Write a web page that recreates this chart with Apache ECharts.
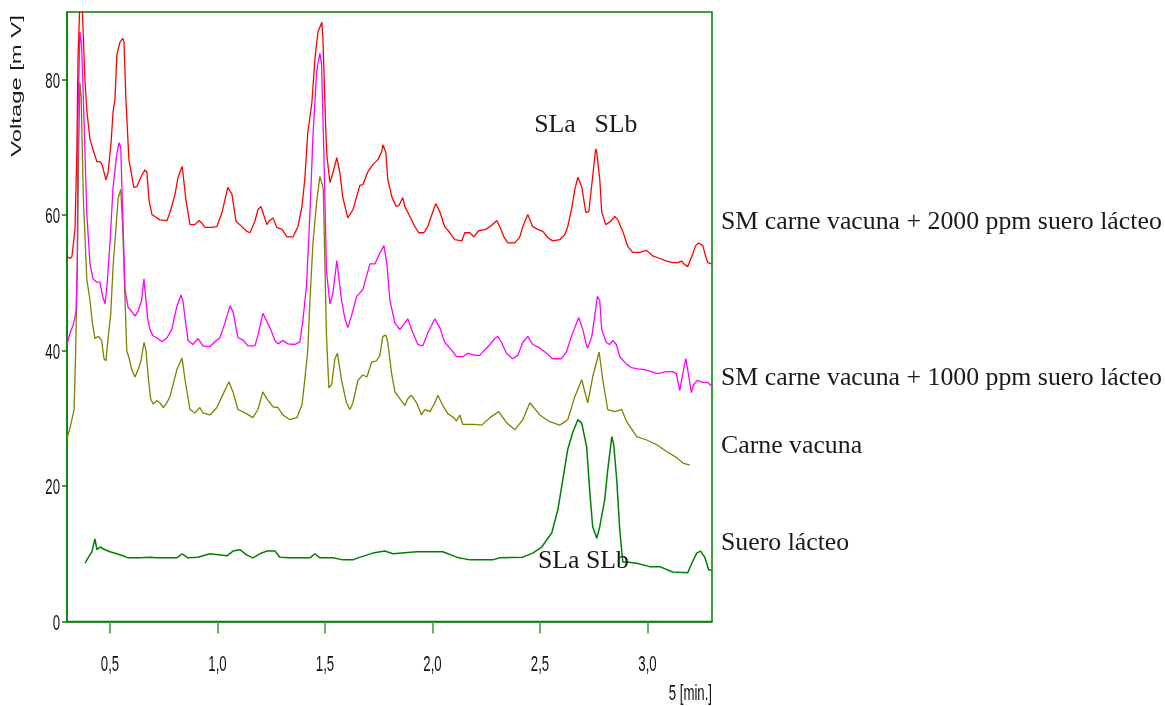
<!DOCTYPE html>
<html><head><meta charset="utf-8">
<script src="https://cdn.jsdelivr.net/npm/echarts@6/dist/echarts.min.js"></script>
<style>html,body{margin:0;padding:0;background:#fff}#c{width:1165px;height:706px}</style>
</head><body><div id="c"></div>
<script>
// ---- data (time in min, voltage in mV) ----
const xTicks = [0.5, 1.0, 1.5, 2.0, 2.5, 3.0];
const yTicks = [0, 20, 40, 60, 80];
const seriesNames = [
  'SM carne vacuna + 2000 ppm suero lácteo',
  'SM carne vacuna + 1000 ppm suero lácteo',
  'Carne vacuna',
  'Suero lácteo'
];
const peakLabelsTop = ['SLa', 'SLb'];
const peakLabelBottom = 'SLa SLb';
const yAxisTitle = 'Voltage [m V]';
const xAxisTitle = '5 [min.]';

const sm2000 = [[0.300,53.9],[0.314,53.6],[0.323,53.9],[0.337,57.9],[0.346,69.7],[0.351,83.0],[0.360,91.5],[0.370,91.5],[0.384,79.6],[0.393,75.2],[0.407,71.2],[0.421,69.7],[0.439,67.9],[0.453,67.9],[0.463,67.5],[0.481,65.2],[0.491,66.3],[0.505,70.7],[0.514,75.2],[0.523,77.1],[0.532,83.7],[0.546,85.5],[0.560,86.1],[0.565,85.6],[0.574,77.1],[0.588,68.2],[0.602,65.7],[0.611,64.1],[0.625,64.2],[0.649,66.0],[0.663,66.7],[0.672,66.3],[0.681,62.3],[0.695,60.1],[0.709,59.8],[0.732,59.3],[0.765,59.2],[0.779,60.4],[0.802,63.0],[0.816,65.5],[0.835,67.2],[0.839,66.3],[0.853,62.3],[0.872,58.6],[0.895,58.6],[0.914,59.2],[0.928,58.8],[0.942,58.2],[0.974,58.2],[0.997,58.3],[1.021,60.4],[1.048,64.1],[1.067,63.1],[1.086,59.1],[1.104,58.6],[1.137,57.6],[1.151,57.4],[1.174,59.1],[1.188,60.8],[1.202,61.3],[1.211,60.4],[1.230,58.6],[1.239,59.1],[1.258,59.6],[1.276,58.2],[1.300,57.9],[1.323,56.8],[1.351,56.8],[1.374,58.3],[1.393,61.3],[1.406,65.3],[1.420,72.2],[1.439,76.6],[1.453,83.0],[1.467,87.0],[1.485,88.5],[1.490,86.4],[1.504,72.2],[1.509,68.7],[1.523,64.8],[1.537,66.3],[1.555,68.5],[1.569,66.3],[1.583,62.6],[1.606,59.6],[1.630,60.8],[1.662,64.4],[1.676,64.5],[1.699,66.4],[1.723,67.5],[1.746,68.2],[1.764,69.4],[1.769,70.4],[1.783,69.3],[1.792,65.3],[1.811,62.7],[1.830,61.3],[1.843,61.4],[1.862,62.6],[1.871,61.3],[1.895,59.8],[1.918,58.3],[1.936,57.4],[1.960,57.4],[1.978,58.3],[1.997,60.1],[2.015,61.7],[2.034,60.5],[2.057,58.3],[2.081,57.4],[2.104,56.4],[2.136,56.2],[2.150,57.4],[2.174,57.4],[2.192,56.8],[2.215,57.7],[2.248,57.9],[2.276,58.5],[2.299,59.2],[2.313,58.3],[2.332,56.8],[2.350,55.9],[2.383,55.9],[2.406,56.8],[2.420,58.3],[2.443,60.1],[2.466,58.3],[2.490,57.9],[2.513,57.6],[2.536,56.7],[2.559,56.2],[2.592,56.4],[2.615,57.1],[2.629,58.3],[2.648,61.1],[2.662,63.8],[2.676,65.6],[2.694,64.2],[2.713,60.4],[2.727,60.5],[2.745,65.7],[2.759,69.8],[2.764,69.3],[2.778,65.3],[2.787,60.5],[2.806,58.6],[2.829,59.1],[2.848,59.8],[2.862,59.3],[2.885,57.6],[2.908,55.4],[2.931,54.5],[2.964,54.5],[2.996,54.8],[3.024,54.0],[3.057,53.6],[3.089,53.2],[3.117,53.0],[3.140,53.0],[3.159,53.2],[3.173,52.7],[3.187,52.4],[3.206,53.9],[3.224,55.5],[3.238,55.9],[3.257,55.5],[3.271,53.9],[3.280,53.0],[3.299,52.8]];

const sm1000 = [[0.300,40.9],[0.314,42.6],[0.328,43.7],[0.342,45.7],[0.348,52.8],[0.351,74.3],[0.360,87.1],[0.368,85.1],[0.379,74.3],[0.392,60.3],[0.407,52.8],[0.421,50.6],[0.438,50.1],[0.453,50.1],[0.466,48.0],[0.477,46.9],[0.486,49.6],[0.500,55.9],[0.514,64.0],[0.531,68.9],[0.542,70.7],[0.550,70.0],[0.559,60.3],[0.570,49.0],[0.584,46.4],[0.601,45.8],[0.616,45.1],[0.630,45.8],[0.647,47.4],[0.658,50.6],[0.667,50.6],[0.675,44.8],[0.686,43.1],[0.700,42.2],[0.718,41.9],[0.742,41.3],[0.765,41.9],[0.787,43.1],[0.810,46.4],[0.830,48.2],[0.839,47.4],[0.852,44.1],[0.863,41.5],[0.886,40.9],[0.909,41.8],[0.932,40.7],[0.965,40.6],[0.988,41.3],[1.011,41.9],[1.035,44.1],[1.058,46.6],[1.072,45.8],[1.095,41.9],[1.118,41.6],[1.141,40.7],[1.174,40.7],[1.188,42.2],[1.211,45.5],[1.228,44.4],[1.248,43.1],[1.267,41.5],[1.281,41.0],[1.304,41.5],[1.327,41.0],[1.360,40.9],[1.383,41.3],[1.397,44.4],[1.414,49.6],[1.430,60.3],[1.444,71.6],[1.461,81.2],[1.476,83.9],[1.484,82.3],[1.495,68.9],[1.507,51.7],[1.523,46.9],[1.537,48.5],[1.555,53.3],[1.577,47.4],[1.592,44.8],[1.606,43.4],[1.624,45.2],[1.647,48.0],[1.676,49.0],[1.709,52.8],[1.732,52.8],[1.755,54.4],[1.774,55.5],[1.788,52.8],[1.802,47.4],[1.825,44.1],[1.848,43.1],[1.871,44.1],[1.885,44.7],[1.909,42.6],[1.932,40.9],[1.955,40.7],[1.978,42.6],[2.011,44.7],[2.034,43.4],[2.057,41.2],[2.088,40.1],[2.112,39.1],[2.141,39.1],[2.164,39.6],[2.197,39.3],[2.220,39.3],[2.243,40.1],[2.267,40.9],[2.290,41.8],[2.304,42.1],[2.321,41.2],[2.344,39.6],[2.373,38.8],[2.397,39.3],[2.420,41.2],[2.443,42.1],[2.466,40.9],[2.499,40.4],[2.530,39.6],[2.559,38.8],[2.600,38.8],[2.623,39.8],[2.646,42.1],[2.666,43.7],[2.680,44.9],[2.699,43.1],[2.717,40.7],[2.722,40.4],[2.741,42.1],[2.755,45.2],[2.767,48.0],[2.778,47.4],[2.787,43.1],[2.809,41.2],[2.824,40.9],[2.838,41.5],[2.855,40.9],[2.871,39.1],[2.902,38.0],[2.925,37.5],[2.955,37.3],[2.987,37.2],[3.018,36.9],[3.047,36.6],[3.088,36.9],[3.117,36.9],[3.134,36.6],[3.150,34.1],[3.164,36.6],[3.178,38.8],[3.187,37.2],[3.204,33.8],[3.215,35.0],[3.232,35.6],[3.257,35.3],[3.280,35.3],[3.297,34.8]];

const carneVacuna = [[0.300,27.0],[0.314,28.6],[0.333,31.3],[0.340,39.3],[0.348,52.8],[0.354,68.9],[0.360,79.6],[0.366,77.5],[0.376,62.5],[0.392,50.6],[0.407,47.4],[0.418,44.1],[0.430,41.8],[0.446,42.1],[0.461,41.5],[0.472,38.8],[0.481,38.5],[0.492,42.1],[0.503,45.2],[0.515,52.8],[0.528,58.2],[0.538,62.5],[0.550,63.8],[0.559,58.2],[0.570,47.4],[0.578,39.9],[0.590,38.8],[0.601,37.2],[0.616,36.1],[0.631,37.2],[0.644,38.5],[0.652,38.5],[0.658,41.2],[0.667,40.1],[0.678,36.1],[0.689,32.9],[0.701,32.1],[0.717,32.6],[0.732,32.3],[0.748,31.6],[0.764,32.3],[0.779,33.2],[0.811,37.2],[0.835,38.9],[0.849,35.7],[0.872,31.3],[0.895,30.8],[0.918,31.6],[0.932,30.8],[0.965,30.5],[0.997,31.6],[1.025,33.5],[1.053,35.4],[1.072,33.9],[1.095,31.3],[1.128,30.8],[1.165,30.1],[1.188,31.3],[1.211,33.9],[1.234,32.7],[1.258,31.7],[1.281,31.6],[1.304,30.5],[1.337,29.8],[1.369,30.1],[1.393,32.0],[1.406,35.7],[1.420,40.1],[1.430,47.4],[1.444,55.9],[1.461,61.9],[1.476,65.7],[1.485,64.8],[1.492,63.8],[1.507,42.1],[1.518,34.5],[1.531,35.0],[1.546,38.8],[1.558,39.6],[1.577,35.6],[1.600,32.3],[1.616,31.3],[1.630,32.3],[1.653,35.6],[1.676,36.4],[1.695,36.1],[1.717,38.3],[1.740,38.5],[1.755,39.3],[1.769,42.1],[1.783,42.3],[1.792,41.2],[1.810,36.6],[1.825,33.9],[1.848,32.9],[1.871,31.9],[1.885,32.9],[1.902,33.4],[1.926,32.3],[1.949,30.5],[1.964,31.3],[1.988,31.0],[2.011,32.3],[2.025,33.4],[2.048,31.9],[2.071,30.7],[2.095,30.2],[2.112,29.6],[2.127,30.5],[2.141,29.1],[2.174,29.1],[2.197,29.1],[2.229,29.0],[2.267,30.1],[2.308,31.0],[2.346,29.3],[2.383,28.3],[2.420,29.8],[2.453,32.3],[2.499,30.5],[2.545,29.5],[2.592,29.0],[2.629,29.8],[2.662,33.2],[2.694,35.7],[2.722,32.3],[2.745,36.1],[2.775,39.8],[2.792,35.7],[2.815,31.3],[2.848,31.0],[2.880,31.3],[2.903,29.5],[2.950,27.3],[2.996,26.8],[3.043,26.1],[3.089,25.1],[3.136,24.2],[3.164,23.4],[3.197,23.1]];

const sueroLacteo = [[0.384,8.6],[0.398,9.4],[0.416,10.3],[0.430,12.2],[0.439,10.6],[0.453,11.0],[0.477,10.6],[0.500,10.3],[0.532,10.0],[0.560,9.7],[0.584,9.4],[0.639,9.4],[0.686,9.5],[0.718,9.4],[0.811,9.4],[0.835,10.0],[0.863,9.4],[0.909,9.5],[0.965,10.0],[1.044,9.7],[1.072,10.4],[1.104,10.6],[1.137,9.8],[1.165,9.4],[1.197,10.0],[1.230,10.4],[1.267,10.4],[1.290,9.5],[1.337,9.4],[1.430,9.4],[1.453,10.0],[1.476,9.4],[1.537,9.4],[1.583,9.1],[1.630,9.1],[1.653,9.4],[1.723,10.1],[1.778,10.4],[1.816,10.0],[1.927,10.3],[2.048,10.3],[2.113,9.5],[2.174,9.1],[2.280,9.1],[2.313,9.4],[2.420,9.5],[2.466,10.1],[2.508,11.0],[2.555,13.1],[2.583,16.5],[2.606,20.9],[2.629,25.4],[2.652,27.9],[2.676,29.8],[2.694,29.3],[2.717,25.8],[2.731,19.4],[2.745,14.0],[2.764,12.3],[2.778,14.0],[2.801,18.0],[2.815,22.4],[2.834,27.3],[2.843,26.1],[2.857,20.9],[2.871,13.5],[2.885,8.8],[2.904,8.8],[2.950,8.6],[3.010,8.1],[3.057,8.1],[3.117,7.3],[3.187,7.2],[3.206,8.6],[3.229,10.1],[3.247,10.4],[3.266,9.5],[3.285,7.6],[3.299,7.6]];

// ---- chart ----
const X_MIN = 0.3, X_MAX = 3.3, Y_MIN = 0, Y_MAX = 90;
const sansFont = "'Liberation Sans', Arial, sans-serif";
const serifFont = "'Liberation Serif', 'DejaVu Serif', serif";
const chart = echarts.init(document.getElementById('c'), null, {renderer: 'canvas'});

function lineSeries(name, data, color, width) {
  return {
    type: 'line', name: name, data: data,
    symbol: 'none', showSymbol: false, clip: true,
    lineStyle: {color: color, width: width},
    itemStyle: {color: color},
    emphasis: {disabled: true},
    animation: false
  };
}

chart.setOption({
  animation: false,
  backgroundColor: '#ffffff',
  grid: {left: 67, top: 12, width: 645, height: 609.5, show: true,
         borderColor: '#008000', borderWidth: 1.5, backgroundColor: 'transparent',
         containLabel: false, outerBoundsMode: 'none'},
  xAxis: {
    type: 'value', min: X_MIN, max: X_MAX,
    axisLine: {show: true, onZero: false, lineStyle: {color: '#008000', width: 1.5}},
    axisTick: {show: true, length: 12, customValues: xTicks, lineStyle: {color: '#3a9a3a', width: 1.5}},
    axisLabel: {show: false, customValues: xTicks},
    splitLine: {show: false}
  },
  yAxis: {
    type: 'value', min: Y_MIN, max: Y_MAX,
    axisLine: {show: true, lineStyle: {color: '#008000', width: 1.5}},
    axisTick: {show: true, length: 5, customValues: yTicks, lineStyle: {color: '#008000', width: 1.5}},
    axisLabel: {show: false, customValues: yTicks},
    splitLine: {show: false}
  },
  series: [
    lineSeries(seriesNames[3], sueroLacteo, '#008000', 1.5),
    lineSeries(seriesNames[2], carneVacuna, '#808000', 1.3),
    lineSeries(seriesNames[1], sm1000, '#ff00ff', 1.3),
    lineSeries(seriesNames[0], sm2000, '#ff0000', 1.3)
  ]
});

// Tick labels (tall, condensed look of the original), placed through the chart's own scales
const toPx = (x, y) => chart.convertToPixel({gridIndex: 0}, [x, y]);
const tickStyle = (text, align) => ({text: text, font: '15px ' + sansFont, fill: '#111111', align: align, verticalAlign: 'middle'});
const labelStyle = (text, align) => ({text: text, font: '25.8px ' + serifFont, fill: '#1a1a1a', align: align, verticalAlign: 'middle'});
const graphics = [];
xTicks.forEach(v => {
  const p = toPx(v, Y_MIN);
  graphics.push({type: 'text', x: p[0], y: p[1] + 43.5, scaleX: 0.88, scaleY: 1.45,
                 style: tickStyle(v.toFixed(1).replace('.', ','), 'center')});
});
yTicks.forEach(v => {
  const p = toPx(X_MIN, v);
  graphics.push({type: 'text', x: p[0] - 7, y: p[1] + 2, scaleX: 0.88, scaleY: 1.45,
                 style: tickStyle(String(v), 'right')});
});
const pEnd = toPx(X_MAX, Y_MIN);
graphics.push({type: 'text', x: pEnd[0], y: pEnd[1] + 72, scaleX: 0.88, scaleY: 1.45,
               style: tickStyle(xAxisTitle, 'right')});
graphics.push({type: 'text', x: 17, y: 86, rotation: Math.PI / 2, scaleX: 1.7,
               style: {text: yAxisTitle, font: '14px ' + sansFont, fill: '#1a1a1a', align: 'center', verticalAlign: 'middle'}});
// peak annotations and series labels
graphics.push({type: 'text', x: 555, y: 125, z: 10, style: labelStyle(peakLabelsTop[0], 'center')});
graphics.push({type: 'text', x: 616, y: 125, z: 10, style: labelStyle(peakLabelsTop[1], 'center')});
graphics.push({type: 'text', x: 538, y: 561, z: 10, style: labelStyle(peakLabelBottom, 'left')});
graphics.push({type: 'text', x: 721, y: 222, style: labelStyle(seriesNames[0], 'left')});
graphics.push({type: 'text', x: 721, y: 378, style: labelStyle(seriesNames[1], 'left')});
graphics.push({type: 'text', x: 721, y: 446, style: labelStyle(seriesNames[2], 'left')});
graphics.push({type: 'text', x: 721, y: 543, style: labelStyle(seriesNames[3], 'left')});
chart.setOption({graphic: graphics});
</script>
</body></html>
